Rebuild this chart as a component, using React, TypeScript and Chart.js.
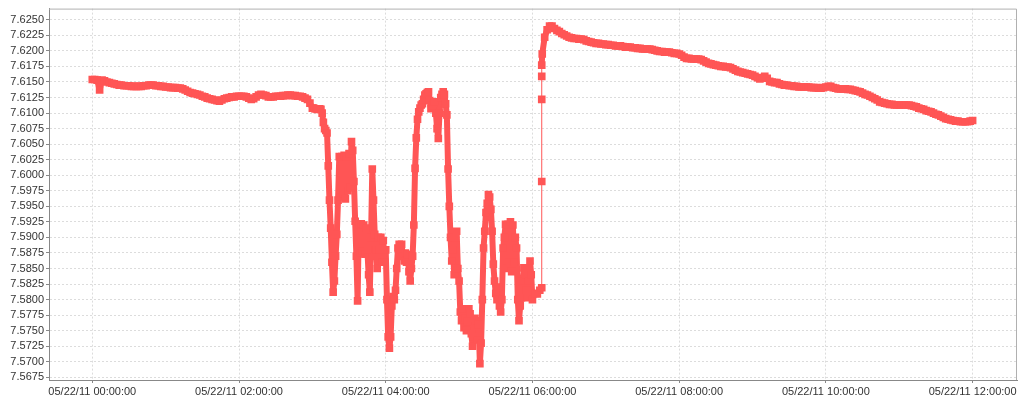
import Chart, { ChartConfiguration } from "chart.js/auto";
import React, { useRef } from "react";

// readings for 05/22/11, one array per hour
// (every 2 minutes, every minute in the busy hours 03-05)
const h00 = [
  7.6154, 7.6154, 7.6153, 7.6137, 7.6153, 7.6152, 7.615, 7.6149, 7.6148, 7.6147,
  7.6146, 7.6145, 7.6145, 7.6144, 7.6144, 7.6144, 7.6143, 7.6143, 7.6143, 7.6143,
  7.6143, 7.6144, 7.6144, 7.6145, 7.6145, 7.6145, 7.6144, 7.6144, 7.6143, 7.6143,
];
const h01 = [
  7.6142, 7.6142, 7.6141, 7.6141, 7.6141, 7.614, 7.614, 7.6139, 7.6137, 7.6135,
  7.6133, 7.6132, 7.6131, 7.613, 7.6129, 7.6127, 7.6126, 7.6124, 7.6123, 7.6122,
  7.6121, 7.612, 7.6119, 7.6121, 7.6123, 7.6124, 7.6125, 7.6126, 7.6126, 7.6127,
];
const h02 = [
  7.6127, 7.6127, 7.6127, 7.6126, 7.6124, 7.6122, 7.6123, 7.6126, 7.6129, 7.613,
  7.6129, 7.6128, 7.6126, 7.6126, 7.6126, 7.6127, 7.6127, 7.6127, 7.6128, 7.6128,
  7.6129, 7.6129, 7.6128, 7.6128, 7.6127, 7.6127, 7.6126, 7.6124, 7.6122, 7.6116,
];
const h03 = [
  7.6108, 7.6108, 7.6107, 7.6107, 7.6106, 7.6107, 7.6107, 7.6106, 7.61, 7.6085,
  7.6075, 7.6072, 7.6068, 7.6015, 7.596, 7.5915, 7.586, 7.5812, 7.583, 7.587,
  7.5905, 7.596, 7.603, 7.5965, 7.603, 7.597, 7.6032, 7.5962, 7.603, 7.5975,
  7.6035, 7.598, 7.6054, 7.604, 7.599, 7.5926, 7.587, 7.5798, 7.592, 7.5875,
  7.5922, 7.5878, 7.592, 7.5873, 7.5915, 7.588, 7.584, 7.5812, 7.59, 7.601,
  7.596, 7.5905, 7.588, 7.585, 7.59, 7.588, 7.59, 7.586, 7.5895, 7.586,
];
const h04 = [
  7.588, 7.58, 7.574, 7.5722, 7.574, 7.579, 7.5805, 7.58, 7.5815, 7.585,
  7.5883, 7.5889, 7.588, 7.5889, 7.587, 7.5862, 7.5875, 7.586, 7.5873, 7.5845,
  7.583, 7.585, 7.587, 7.592, 7.6011, 7.606, 7.609, 7.6102, 7.6108, 7.6113,
  7.6115, 7.6122, 7.6129, 7.6131, 7.6133, 7.6134, 7.612, 7.6107, 7.6112, 7.6116,
  7.6118, 7.61, 7.6075, 7.6059, 7.61, 7.6125, 7.613, 7.6134, 7.613, 7.6115,
  7.6097, 7.601, 7.595, 7.59, 7.5862, 7.588, 7.584, 7.59, 7.591, 7.585,
];
const h05 = [
  7.583, 7.578, 7.5766, 7.5785, 7.5755, 7.577, 7.575, 7.5765, 7.5785, 7.5777,
  7.5745, 7.5725, 7.574, 7.577, 7.5766, 7.5735, 7.576, 7.5697, 7.573, 7.58,
  7.5883, 7.591, 7.594, 7.5955, 7.5969, 7.5965, 7.5945, 7.591, 7.5857, 7.583,
  7.581, 7.58, 7.582, 7.579, 7.578, 7.58, 7.5883, 7.59, 7.5921, 7.585,
  7.5921, 7.586, 7.5925, 7.5845, 7.592, 7.586, 7.59, 7.5883, 7.58, 7.5766,
  7.579, 7.5803, 7.583, 7.5851, 7.584, 7.5815, 7.5803, 7.583, 7.5862, 7.584,
];
const h06 = [
  7.58, 7.581, 7.5809, 7.5815, 7.6195, 7.6222, 7.6234, 7.624, 7.624, 7.6236,
  7.6233, 7.6231, 7.6228, 7.6226, 7.6224, 7.6222, 7.6221, 7.622, 7.622, 7.6219,
  7.6219, 7.6218, 7.6216, 7.6215, 7.6214, 7.6213, 7.6212, 7.6212, 7.6211, 7.6211,
];
const h07 = [
  7.621, 7.621, 7.6209, 7.6209, 7.6208, 7.6208, 7.6208, 7.6207, 7.6206, 7.6206,
  7.6206, 7.6205, 7.6205, 7.6204, 7.6204, 7.6203, 7.6203, 7.6203, 7.6203, 7.6202,
  7.6201, 7.62, 7.6199, 7.6199, 7.6198, 7.6198, 7.6198, 7.6197, 7.6196, 7.6196,
];
const h08 = [
  7.6195, 7.6193, 7.619, 7.6188, 7.6188, 7.6187, 7.6187, 7.6187, 7.6187, 7.6186,
  7.6184, 7.6182, 7.618, 7.6179, 7.6178, 7.6177, 7.6176, 7.6175, 7.6175, 7.6174,
  7.6174, 7.6173, 7.6171, 7.6169, 7.6167, 7.6166, 7.6165, 7.6164, 7.6163, 7.6162,
];
const h09 = [
  7.6161, 7.6159, 7.6157, 7.6155, 7.6156, 7.6159, 7.6156, 7.6151, 7.615, 7.6149,
  7.6149, 7.6147, 7.6146, 7.6145, 7.6145, 7.6144, 7.6144, 7.6143, 7.6143, 7.6142,
  7.6142, 7.6142, 7.6142, 7.6142, 7.6141, 7.6141, 7.6141, 7.614, 7.614, 7.6141,
];
const h10 = [
  7.6142, 7.6143, 7.6143, 7.6141, 7.614, 7.6139, 7.6139, 7.6139, 7.6139, 7.6138,
  7.6138, 7.6137, 7.6136, 7.6135, 7.6134, 7.6132, 7.613, 7.6129, 7.6127, 7.6125,
  7.6123, 7.6121, 7.6118, 7.6117, 7.6116, 7.6115, 7.6114, 7.6114, 7.6113, 7.6113,
];
const h11 = [
  7.6113, 7.6113, 7.6113, 7.6113, 7.6113, 7.6112, 7.6111, 7.611, 7.6108, 7.6107,
  7.6106, 7.6104, 7.6103, 7.6102, 7.61, 7.6098, 7.6097, 7.6095, 7.6093, 7.6091,
  7.609, 7.6089, 7.6088, 7.6087, 7.6087, 7.6086, 7.6086, 7.6086, 7.6086, 7.6087,
];
const lastValue = 7.6088; // 12:00:00

// the jump just after 06:07, all read at about the same time
const jumpMinute = 367.6;
const jumpValues = [7.5819, 7.599, 7.6122, 7.6159, 7.6177];

const hours = [h00, h01, h02, h03, h04, h05, h06, h07, h08, h09, h10, h11];
const tickMinutes = [0, 120, 240, 360, 480, 600, 720];
const yTicks = [
  7.5675, 7.57, 7.5725, 7.575, 7.5775, 7.58, 7.5825, 7.585, 7.5875, 7.59,
  7.5925, 7.595, 7.5975, 7.6, 7.6025, 7.605, 7.6075, 7.61, 7.6125, 7.615,
  7.6175, 7.62, 7.6225, 7.625,
];

const red = "#ff5555";
const font = { family: "'Liberation Sans', Arial, sans-serif", size: 11 };

const frame = {
  id: "frame",
  afterDraw(chart) {
    const { ctx, chartArea: a } = chart;
    ctx.save();
    ctx.strokeStyle = "#b0b0b0";
    ctx.lineWidth = 1;
    ctx.beginPath();
    ctx.moveTo(a.left, a.top + 0.5);
    ctx.lineTo(a.right - 0.5, a.top + 0.5);
    ctx.lineTo(a.right - 0.5, a.bottom);
    ctx.stroke();
    ctx.restore();
  },
};

const Graph = () => {
  const canvasEl = useRef(null);
  React.useEffect(() => {
    const ctx = canvasEl.current.getContext("2d");

    const points = [];
    hours.forEach((arr, h) => {
      const step = 60 / arr.length;
      arr.forEach((v, i) => points.push({ x: h * 60 + i * step, y: v }));
    });
    points.push({ x: 720, y: lastValue });
    jumpValues.forEach((v) => points.push({ x: jumpMinute, y: v }));
    points.sort((a, b) => a.x - b.x);

    const config = {
      type: "line",
      data: {
        datasets: [
          {
            data: points,
            borderColor: red,
            borderWidth: 6,
            borderJoinStyle: "round",
            borderCapStyle: "round",
            segment: {
              // the jump is drawn as a thin line between its points
              borderWidth: (c) => (c.p0.parsed.x === c.p1.parsed.x ? 1 : 6),
            },
            pointStyle: "rect",
            pointRadius: 5.4,
            pointBorderWidth: 0,
            pointBackgroundColor: red,
            tension: 0,
          },
        ],
      },
      options: {
        responsive: true,
        maintainAspectRatio: false,
        animation: false,
        layout: { padding: { top: 6, right: 7, left: 0, bottom: 0 } },
        plugins: { legend: { display: false }, tooltip: { enabled: false } },
        scales: {
          x: {
            type: "linear",
            min: -35.4,
            max: 756.3,
            afterBuildTicks: (s) => {
              s.ticks = tickMinutes.map((v) => ({ value: v }));
            },
            afterFit: (s) => {
              s.height = 20;
            },
            ticks: {
              autoSkip: false,
              maxRotation: 0,
              padding: 2,
              color: "#333",
              font,
              callback: (v) =>
                "05/22/11 " + String(Math.round(v / 60)).padStart(2, "0") + ":00:00",
            },
            grid: { color: "#dcdcdc", tickLength: 3, tickColor: "#888" },
            border: { color: "#888", dash: [2, 2] },
          },
          y: {
            min: 7.56707,
            max: 7.6268,
            afterBuildTicks: (s) => {
              s.ticks = yTicks.map((v) => ({ value: v }));
            },
            afterFit: (s) => {
              s.width = 49;
            },
            ticks: {
              autoSkip: false,
              padding: 2,
              color: "#333",
              font,
              callback: (v) => Number(v).toFixed(4),
            },
            grid: { color: "#dcdcdc", tickLength: 3, tickColor: "#888" },
            border: { color: "#888", dash: [2, 2] },
          },
        },
      },
      plugins: [frame],
    } as ChartConfiguration;
    const myLineChart = new Chart(ctx, config);

    return () => {
      myLineChart.destroy();
    };
  }, []);
  return (
    <div style={{ position: "absolute", left: 0, top: 0, width: 1024, height: 400 }}>
      <canvas ref={canvasEl}></canvas>
    </div>
  );
};

export default function App() {
  return <Graph />;
}
